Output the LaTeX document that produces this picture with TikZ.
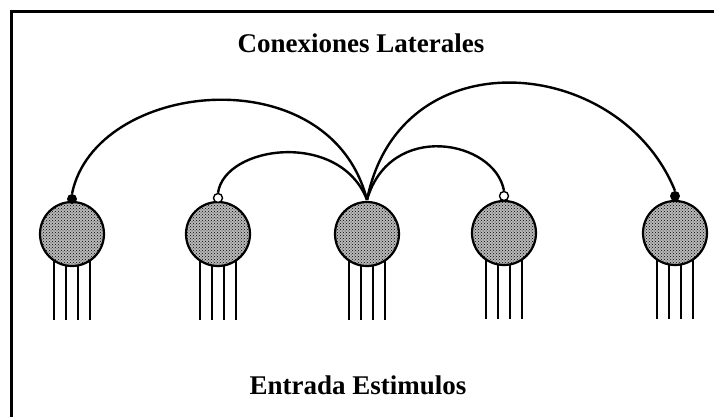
\documentclass[tikz,border=0pt]{standalone}
\usepackage{fontspec}
\setmainfont{Liberation Serif}
\usetikzlibrary{patterns}
\begin{document}
\begin{tikzpicture}[x=1pt,y=-1pt,
  neuron/.style={circle,draw,line width=2.2pt,minimum size=64pt,inner sep=0pt,
    preaction={fill=gray!55},pattern=crosshatch dots},
  knobfull/.style={circle,fill=black,minimum size=10pt,inner sep=0pt},
  knobopen/.style={circle,draw,fill=white,line width=1.4pt,minimum size=9pt,inner sep=0pt},
  conn/.style={line width=2.4pt},
  fiber/.style={line width=2.2pt},
  label/.style={font=\fontsize{27}{32}\selectfont\bfseries}]
\useasboundingbox (0,0) rectangle (714,417);
% frame
\draw[line width=3pt] (11,417) -- (11,12) -- (714,12);
% neuron centres
\coordinate (p1) at (72,234);
\coordinate (p2) at (218,234);
\coordinate (p3) at (367,234);
\coordinate (p4) at (504,233);
\coordinate (p5) at (675,233);
% input fibres
\foreach \p in {p1,p2,p3,p4,p5}
  \foreach \dx in {-18,-6,6,18}
    \draw[fiber] ([xshift=\dx pt]\p) -- ++(0,86);
% neurons
\node[neuron] (n1) at (p1) {};
\node[neuron] (n2) at (p2) {};
\node[neuron] (n3) at (p3) {};
\node[neuron] (n4) at (p4) {};
\node[neuron] (n5) at (p5) {};
% knobs
\node[knobfull] (k1) at ([yshift=35pt]n1.center) {};
\node[knobopen] (k2) at ([yshift=36pt]n2.center) {};
\node[knobopen] (k4) at ([yshift=37pt]n4.center) {};
\node[knobfull] (k5) at ([yshift=37pt]n5.center) {};
\coordinate (c3) at ([yshift=1pt]n3.north);
% lateral connections
\draw[conn] (k1.north) .. controls (95,80) and (330,55) .. (c3);
\draw[conn] (k2.north) .. controls (225,145) and (340,130) .. (c3);
\draw[conn] (c3) .. controls (390,120) and (495,140) .. (k4.north);
\draw[conn] (c3) .. controls (400,35) and (620,55) .. (k5.north);
% labels
\node[label] (top) at (361,43) {Conexiones Laterales};
\node[label] (bottom) at (358,385) {Entrada Estimulos};
\end{tikzpicture}
\end{document}
